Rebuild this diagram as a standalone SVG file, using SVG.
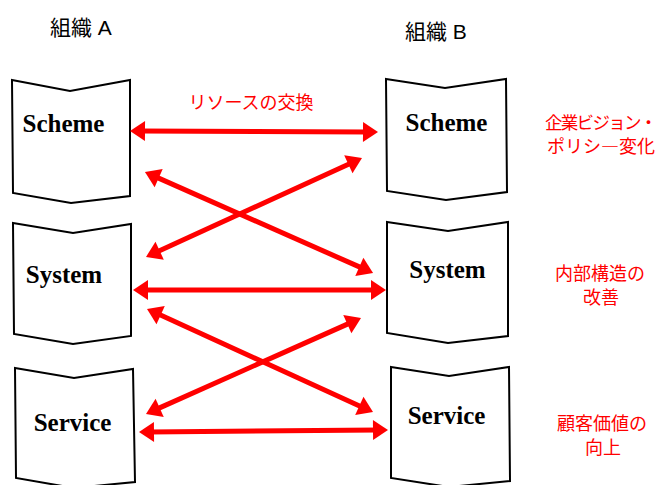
<svg xmlns="http://www.w3.org/2000/svg" width="661" height="485" viewBox="0 0 661 485">
<style>
.node polygon{fill:#fff;stroke:#000;stroke-width:2;stroke-linejoin:miter}
.nt{font-family:"Liberation Serif","Times New Roman",serif;font-weight:bold;font-size:25px;fill:#000;text-anchor:middle}
.tt{font-family:"Liberation Sans","Noto Sans CJK JP",sans-serif;font-size:21px;fill:#000}
.rt{font-family:"Noto Sans CJK JP","Liberation Sans",sans-serif;font-size:18px;fill:#ff0000;text-anchor:middle}
.conn line{stroke:#ff0000;stroke-width:5;marker-start:url(#ah);marker-end:url(#ah)}
</style>
<defs>
<marker id="ah" markerUnits="userSpaceOnUse" markerWidth="16" markerHeight="20" refX="5" refY="10" orient="auto-start-reverse" overflow="visible">
<path d="M0,0 L15,10 L0,20 z" fill="#ff0000"/>
</marker>
</defs>
<rect width="661" height="485" fill="#fff"/>
<text id="orgA" class="tt" x="50" y="35">組織 A</text>
<text id="orgB" class="tt" x="405" y="39">組織 B</text>

<g id="schemeA" class="node">
<polygon points="12,80 70,91 130,80 130,196 71,203 13,193"/>
<text class="nt" x="63.5" y="132">Scheme</text>
</g>
<g id="schemeB" class="node">
<polygon points="386,79 445,88 506,79 507,192 446,200 387,191"/>
<text class="nt" x="446.5" y="131">Scheme</text>
</g>
<g id="systemA" class="node">
<polygon points="13,223 73,233 131,224 131,336 73,344 14,334"/>
<text class="nt" x="64" y="283">System</text>
</g>
<g id="systemB" class="node">
<polygon points="387,222 448,231 508,222 508,336 448,343 387,333"/>
<text class="nt" x="447.5" y="278">System</text>
</g>
<g id="serviceA" class="node">
<polygon points="15,368 74,378 133,369 135,482 74,488 16,478"/>
<text class="nt" x="72.5" y="431">Service</text>
</g>
<g id="serviceB" class="node">
<polygon points="391,367 449,376 509,367 510,481 449,487 391,478"/>
<text class="nt" x="446.5" y="424">Service</text>
</g>

<g id="connectors" class="conn">
<line x1="140" y1="131" x2="368" y2="132"/>
<line x1="154.1" y1="176.1" x2="363.9" y2="268.9"/>
<line x1="352.9" y1="162.2" x2="155.1" y2="252.8"/>
<line x1="143" y1="290" x2="376" y2="290"/>
<line x1="156.1" y1="313.1" x2="363.9" y2="407.9"/>
<line x1="351.9" y1="322.1" x2="155.1" y2="409.9"/>
<line x1="149" y1="432" x2="378" y2="430"/>
</g>

<g id="labels">
<text class="rt" x="251" y="109">リソースの交換</text>
<text class="rt" x="545" y="129" style="text-anchor:start;font-size:17.5px;letter-spacing:-1.7px">企業ビジョン・</text>
<text class="rt" x="601" y="153">ポリシ―変化</text>
<text class="rt" x="600" y="280">内部構造の</text>
<text class="rt" x="601" y="304">改善</text>
<text class="rt" x="602" y="430">顧客価値の</text>
<text class="rt" x="603" y="454">向上</text>
</g>
</svg>
